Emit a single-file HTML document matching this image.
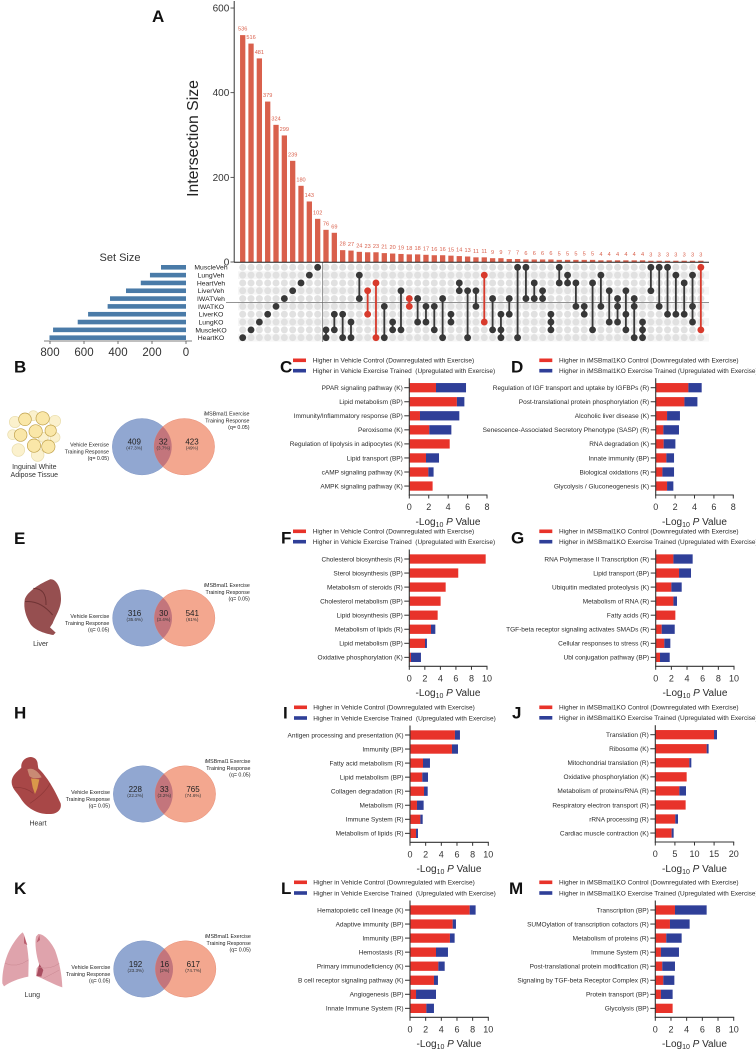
<!DOCTYPE html>
<html lang="en">
<head>
<meta charset="utf-8">
<title>Exercise training response figure</title>
<style>
html,body{margin:0;padding:0;background:#fff;width:756px;height:1050px;overflow:hidden}
svg{display:block;font-family:"Liberation Sans",sans-serif}
.cat{font-size:6.5px;fill:#2b2b2b;text-anchor:end}
.tick{font-size:9px;fill:#333;text-anchor:middle}
.leg{font-size:6.5px;fill:#2b2b2b}
.ttl{font-size:10px;fill:#2b2b2b;text-anchor:middle}
.letter{font-size:17px;font-weight:bold;fill:#111}
.vn{font-size:8px;fill:#222;text-anchor:middle}
.vs{font-size:4.6px;fill:#333;text-anchor:middle}
.vl{font-size:5.3px;fill:#222;text-anchor:end}
.org{font-size:7px;fill:#333;text-anchor:middle}
</style>
</head>
<body>
<svg id="fig" xmlns="http://www.w3.org/2000/svg" width="756" height="1050" viewBox="0 0 756 1050">
<defs>
<clipPath id="blue-clip"><ellipse cx="142" cy="446.7" rx="29.7" ry="28.2"/></clipPath>
</defs>
<rect width="756" height="1050" fill="#fff"/>

<!-- panel letters -->
<text class="letter" x="152" y="22">A</text>
<text class="letter" x="14" y="372.6">B</text>
<text class="letter" x="280" y="372.6">C</text>
<text class="letter" x="511" y="372.6">D</text>
<text class="letter" x="14" y="544">E</text>
<text class="letter" x="281" y="543.5">F</text>
<text class="letter" x="511" y="543.5">G</text>
<text class="letter" x="14" y="718.5">H</text>
<text class="letter" x="283" y="718.5">I</text>
<text class="letter" x="512" y="718.5">J</text>
<text class="letter" x="14" y="894">K</text>
<text class="letter" x="281" y="894">L</text>
<text class="letter" x="509" y="894">M</text>

<!-- upset static titles -->
<text x="120" y="261" font-size="11" fill="#333" text-anchor="middle">Set Size</text>
<text transform="translate(198,138.5) rotate(-90)" font-size="15.8" fill="#222" text-anchor="middle">Intersection Size</text>
<g id="upset"></g>

<!-- Venn B -->
<g>
<ellipse cx="142" cy="446.7" rx="29.7" ry="28.2" fill="#91a7d1" stroke="#869cc8" stroke-width=".5"/>
<ellipse cx="184.3" cy="446.7" rx="30.3" ry="28.2" fill="#f3a78f" stroke="#e9917a" stroke-width=".5"/>
<ellipse cx="184.3" cy="446.7" rx="30.3" ry="28.2" fill="#c3757c" clip-path="url(#blue-clip)"/>
<text class="vn" x="134.3" y="444.5">409</text><text class="vs" x="134.3" y="449.5">(47.3%)</text>
<text class="vn" x="163.3" y="444.5">32</text><text class="vs" x="163.3" y="449.5">(3.7%)</text>
<text class="vn" x="192" y="444.5">423</text><text class="vs" x="192" y="449.5">(49%)</text>
<text class="vl" x="109" y="446.5">Vehicle Exercise</text><text class="vl" x="109" y="453.5">Training Response</text><text class="vl" x="109" y="460">(q= 0.05)</text>
<text class="vl" x="249.5" y="415.5">iMSBmal1 Exercise</text><text class="vl" x="249.5" y="422.5">Training Response</text><text class="vl" x="249.5" y="429">(q= 0.05)</text>
</g>
<!-- Venn E -->
<g transform="translate(.3,171.3)">
<ellipse cx="142" cy="446.7" rx="29.7" ry="28.2" fill="#91a7d1" stroke="#869cc8" stroke-width=".5"/>
<ellipse cx="184.3" cy="446.7" rx="30.3" ry="28.2" fill="#f3a78f" stroke="#e9917a" stroke-width=".5"/>
<ellipse cx="184.3" cy="446.7" rx="30.3" ry="28.2" fill="#c3757c" clip-path="url(#blue-clip)"/>
<text class="vn" x="134.3" y="444.5">316</text><text class="vs" x="134.3" y="449.5">(35.6%)</text>
<text class="vn" x="163.3" y="444.5">30</text><text class="vs" x="163.3" y="449.5">(3.4%)</text>
<text class="vn" x="192" y="444.5">541</text><text class="vs" x="192" y="449.5">(61%)</text>
<text class="vl" x="109" y="446.5">Vehicle Exercise</text><text class="vl" x="109" y="453.5">Training Response</text><text class="vl" x="109" y="460">(q= 0.05)</text>
<text class="vl" x="249.5" y="415.5">iMSBmal1 Exercise</text><text class="vl" x="249.5" y="422.5">Training Response</text><text class="vl" x="249.5" y="429">(q= 0.05)</text>
</g>
<!-- Venn H -->
<g transform="translate(1,347.3)">
<ellipse cx="142" cy="446.7" rx="29.7" ry="28.2" fill="#91a7d1" stroke="#869cc8" stroke-width=".5"/>
<ellipse cx="184.3" cy="446.7" rx="30.3" ry="28.2" fill="#f3a78f" stroke="#e9917a" stroke-width=".5"/>
<ellipse cx="184.3" cy="446.7" rx="30.3" ry="28.2" fill="#c3757c" clip-path="url(#blue-clip)"/>
<text class="vn" x="134.3" y="444.5">228</text><text class="vs" x="134.3" y="449.5">(22.2%)</text>
<text class="vn" x="163.3" y="444.5">33</text><text class="vs" x="163.3" y="449.5">(3.2%)</text>
<text class="vn" x="192" y="444.5">765</text><text class="vs" x="192" y="449.5">(74.6%)</text>
<text class="vl" x="109" y="446.5">Vehicle Exercise</text><text class="vl" x="109" y="453.5">Training Response</text><text class="vl" x="109" y="460">(q= 0.05)</text>
<text class="vl" x="249.5" y="415.5">iMSBmal1 Exercise</text><text class="vl" x="249.5" y="422.5">Training Response</text><text class="vl" x="249.5" y="429">(q= 0.05)</text>
</g>
<!-- Venn K -->
<g transform="translate(1.3,522.3)">
<ellipse cx="142" cy="446.7" rx="29.7" ry="28.2" fill="#91a7d1" stroke="#869cc8" stroke-width=".5"/>
<ellipse cx="184.3" cy="446.7" rx="30.3" ry="28.2" fill="#f3a78f" stroke="#e9917a" stroke-width=".5"/>
<ellipse cx="184.3" cy="446.7" rx="30.3" ry="28.2" fill="#c3757c" clip-path="url(#blue-clip)"/>
<text class="vn" x="134.3" y="444.5">192</text><text class="vs" x="134.3" y="449.5">(23.3%)</text>
<text class="vn" x="163.3" y="444.5">16</text><text class="vs" x="163.3" y="449.5">(2%)</text>
<text class="vn" x="192" y="444.5">617</text><text class="vs" x="192" y="449.5">(74.7%)</text>
<text class="vl" x="109" y="446.5">Vehicle Exercise</text><text class="vl" x="109" y="453.5">Training Response</text><text class="vl" x="109" y="460">(q= 0.05)</text>
<text class="vl" x="249.5" y="415.5">iMSBmal1 Exercise</text><text class="vl" x="249.5" y="422.5">Training Response</text><text class="vl" x="249.5" y="429">(q= 0.05)</text>
</g>

<!-- Adipose illustration -->
<g transform="translate(0,350) scale(.3333)">
<g fill="#fbf1cd" stroke="#e8dcab" stroke-width="2">
<circle cx="45" cy="216" r="17"/><circle cx="100" cy="197" r="15"/><circle cx="165" cy="213" r="17"/><circle cx="38" cy="254" r="15"/><circle cx="55" cy="300" r="19"/><circle cx="113" cy="315" r="19"/><circle cx="165" cy="262" r="15"/><circle cx="130" cy="262" r="15"/>
</g>
<g fill="#fae7a8" stroke="#bfa04a" stroke-width="2">
<circle cx="75" cy="208" r="19"/><circle cx="128" cy="205" r="20"/><circle cx="62" cy="255" r="19"/><circle cx="107" cy="244" r="20"/><circle cx="152" cy="242" r="17"/><circle cx="102" cy="287" r="20"/><circle cx="145" cy="290" r="20"/>
</g>
</g>
<text class="org" x="34.3" y="469">Inguinal White</text>
<text class="org" x="34.3" y="477">Adipose Tissue</text>

<!-- Liver illustration -->
<g transform="translate(0,520) scale(.3333)">
<path d="M150 178 C170 176 183 205 183 235 C184 265 165 290 158 310 L150 322 L167 338 L160 345 C130 340 100 328 90 310 C78 290 70 265 74 240 C78 220 110 195 150 178 Z" fill="#964f50"/>
<path d="M75 245 Q120 240 158 285 M100 205 Q140 205 138 255" stroke="#6e3334" stroke-width="3" fill="none"/>
</g>
<text class="org" x="40.7" y="646">Liver</text>

<!-- Heart illustration -->
<g transform="translate(0,700) scale(.3333)">
<path d="M85 172 C100 168 113 178 113 192 L115 205 C140 228 165 270 182 310 C186 330 170 342 150 342 C115 344 80 325 62 295 C52 278 34 265 35 245 C36 225 55 212 64 203 C62 188 72 175 85 172 Z" fill="#a84747"/>
<path d="M82 208 Q105 200 125 232 Q100 240 88 228 Z" fill="#c98a74"/>
<path d="M93 235 L118 238 L112 265 L105 282 L98 262 Z" fill="#d9984a"/>
<path d="M40 262 Q75 260 100 280 M90 310 Q135 280 150 250" stroke="#8f3838" stroke-width="2" fill="none"/>
</g>
<text class="org" x="38" y="825.5" font-size="7.5">Heart</text>

<!-- Lung illustration -->
<g transform="translate(0,880) scale(.3333)">
<path d="M68 157 C78 170 84 210 86 240 L85 290 C55 296 30 306 12 319 L7 310 C6 265 20 220 40 190 C50 175 60 162 68 157 Z" fill="#dfa3ac"/>
<path d="M115 162 C135 162 155 190 165 210 C178 245 186 285 187 322 C165 316 140 300 108 288 L110 265 L118 255 C108 225 104 190 108 170 Z" fill="#dfa3ac"/>
<path d="M72 168 L82 195 L72 190 Z" fill="#bb5f6f"/>
<path d="M118 165 L110 188 L120 180 Z" fill="#bb5f6f"/>
<path d="M118 252 L130 270 L124 290 L110 288 Z" fill="#a94d60"/>
<path d="M15 250 Q50 265 85 240 M118 262 Q150 270 178 250 M130 295 Q160 280 178 270" stroke="#c88791" stroke-width="1.5" fill="none"/>
</g>
<text class="org" x="32.3" y="997" font-size="8">Lung</text>

<!-- Legends -->
<g>
<rect x="293" y="358.5" width="13" height="3.6" fill="#e8332a"/><rect x="293" y="368.9" width="13" height="3.6" fill="#2f3f98"/>
<text class="leg" x="312.7" y="362.6">Higher in Vehicle Control (Downregulated with Exercise)</text>
<text class="leg" x="312.7" y="373" xml:space="preserve">Higher in Vehicle Exercise Trained  (Upregulated with Exercise)</text>
</g>
<g>
<rect x="539.3" y="358.5" width="13" height="3.6" fill="#e8332a"/><rect x="539.3" y="368.9" width="13" height="3.6" fill="#2f3f98"/>
<text class="leg" x="559" y="362.6">Higher in iMSBmal1KO Control (Downregulated with Exercise)</text>
<text class="leg" x="559" y="373">Higher in iMSBmal1KO Exercise Trained (Upregulated with Exercise)</text>
</g>
<g>
<rect x="293" y="529.5" width="13" height="3.6" fill="#e8332a"/><rect x="293" y="539.9" width="13" height="3.6" fill="#2f3f98"/>
<text class="leg" x="312.7" y="533.6">Higher in Vehicle Control (Downregulated with Exercise)</text>
<text class="leg" x="312.7" y="544" xml:space="preserve">Higher in Vehicle Exercise Trained  (Upregulated with Exercise)</text>
</g>
<g>
<rect x="539.3" y="529.5" width="13" height="3.6" fill="#e8332a"/><rect x="539.3" y="539.9" width="13" height="3.6" fill="#2f3f98"/>
<text class="leg" x="559" y="533.6">Higher in iMSBmal1KO Control (Downregulated with Exercise)</text>
<text class="leg" x="559" y="544">Higher in iMSBmal1KO Exercise Trained (Upregulated with Exercise)</text>
</g>
<g>
<rect x="294" y="705.5" width="13" height="3.6" fill="#e8332a"/><rect x="294" y="716.2" width="13" height="3.6" fill="#2f3f98"/>
<text class="leg" x="313.3" y="709.6">Higher in Vehicle Control (Downregulated with Exercise)</text>
<text class="leg" x="313.3" y="720.3" xml:space="preserve">Higher in Vehicle Exercise Trained  (Upregulated with Exercise)</text>
</g>
<g>
<rect x="539.3" y="705.5" width="13" height="3.6" fill="#e8332a"/><rect x="539.3" y="716" width="13" height="3.6" fill="#2f3f98"/>
<text class="leg" x="559" y="709.6">Higher in iMSBmal1KO Control (Downregulated with Exercise)</text>
<text class="leg" x="559" y="720.1">Higher in iMSBmal1KO Exercise Trained (Upregulated with Exercise)</text>
</g>
<g>
<rect x="294" y="880.5" width="13" height="3.6" fill="#e8332a"/><rect x="294" y="891.2" width="13" height="3.6" fill="#2f3f98"/>
<text class="leg" x="313.3" y="884.6">Higher in Vehicle Control (Downregulated with Exercise)</text>
<text class="leg" x="313.3" y="895.3" xml:space="preserve">Higher in Vehicle Exercise Trained  (Upregulated with Exercise)</text>
</g>
<g>
<rect x="539.3" y="880.5" width="13" height="3.6" fill="#e8332a"/><rect x="539.3" y="891.2" width="13" height="3.6" fill="#2f3f98"/>
<text class="leg" x="559" y="884.6">Higher in iMSBmal1KO Control (Downregulated with Exercise)</text>
<text class="leg" x="559" y="895.3">Higher in iMSBmal1KO Exercise Trained (Upregulated with Exercise)</text>
</g>

<!-- Axis titles -->
<text class="ttl" x="448" y="525">-Log<tspan font-size="7" dy="2">10</tspan><tspan dy="-2" font-style="italic"> P</tspan> Value</text>
<text class="ttl" x="694.5" y="525">-Log<tspan font-size="7" dy="2">10</tspan><tspan dy="-2" font-style="italic"> P</tspan> Value</text>
<text class="ttl" x="448" y="696">-Log<tspan font-size="7" dy="2">10</tspan><tspan dy="-2" font-style="italic"> P</tspan> Value</text>
<text class="ttl" x="695" y="696">-Log<tspan font-size="7" dy="2">10</tspan><tspan dy="-2" font-style="italic"> P</tspan> Value</text>
<text class="ttl" x="449" y="872">-Log<tspan font-size="7" dy="2">10</tspan><tspan dy="-2" font-style="italic"> P</tspan> Value</text>
<text class="ttl" x="694.5" y="872">-Log<tspan font-size="7" dy="2">10</tspan><tspan dy="-2" font-style="italic"> P</tspan> Value</text>
<text class="ttl" x="449" y="1047">-Log<tspan font-size="7" dy="2">10</tspan><tspan dy="-2" font-style="italic"> P</tspan> Value</text>
<text class="ttl" x="694.5" y="1047">-Log<tspan font-size="7" dy="2">10</tspan><tspan dy="-2" font-style="italic"> P</tspan> Value</text>

<g id="bars"></g>
</svg>

<script>
// ---------- UpSet data ----------
const intersectionSizes = [536,516,481,379,324,299,239,180,143,102,76,69,28,27,24,23,23,21,20,19,18,18,17,16,16,15,14,13,11,11,9,9,7,7,6,6,6,6,5,5,5,5,5,4,4,4,4,4,4,3,3,3,3,3,3,3];
const intersectionMembers = [[9],[8],[7],[6],[5],[4],[3],[2],[1],[0],[8,9],[6,8],[6,9],[7,9],[1,4],[3,6],[2,9],[5,9],[7,8],[3,8],[4,5],[4,7],[5,7],[5,8],[4,9],[6,7],[2,3],[3,9],[3,5],[1,7],[4,8],[6,8,9],[4,6],[0,9],[0,4],[2,4],[3,4],[6,7,8],[0,2],[1,2],[2,5],[5,6],[2,8],[1,5],[3,7],[4,5,7],[3,6,8],[4,5,9],[7,8,9],[0,3],[0,5],[0,6],[1,6],[2,6],[1,5,7],[0,8]];
const highlightedIntersections = [15,16,20,29,55];
const setNames = ["MuscleVeh","LungVeh","HeartVeh","LiverVeh","IWATVeh","IWATKO","LiverKO","LungKO","MuscleKO","HeartKO"];
const setSizes = [147,212,266,353,447,461,576,637,782,803];
const intersectionTicks = [0,200,400,600];
const setSizeTicks = [800,600,400,200,0];

// ---------- Bar chart data ----------
const catsC = ["PPAR signaling pathway (K)","Lipid metabolism (BP)","Immunity/Inflammatory response (BP)","Peroxisome (K)","Regulation of lipolysis in adipocytes (K)","Lipid transport (BP)","cAMP signaling pathway (K)","AMPK signaling pathway (K)"];
const redC = [2.75,4.9,1.1,2.06,4.16,1.72,1.96,2.4];
const blueC = [3.09,0.77,4.05,2.27,0,1.34,0.54,0];
const ticksC = [0,2,4,6,8];

const catsD = ["Regulation of IGF transport and uptake by IGFBPs (R)","Post-translational protein phosphorylation (R)","Alcoholic liver disease (K)","Senescence-Associated Secretory Phenotype (SASP) (R)","RNA degradation (K)","Innate immunity (BP)","Biological oxidations (R)","Glycolysis / Gluconeogenesis (K)"];
const redD = [3.37,2.96,1.17,0.79,0.82,1.1,0.69,1.17];
const blueD = [1.37,1.34,1.33,1.61,1.21,0.79,1.2,0.65];
const ticksD = [0,2,4,6,8];

const catsF = ["Cholesterol biosynthesis (R)","Sterol biosynthesis (BP)","Metabolism of steroids (R)","Cholesterol metabolism (BP)","Lipid biosynthesis (BP)","Metabolism of lipids (R)","Lipid metabolism (BP)","Oxidative phosphorylation (K)"];
const redF = [9.83,6.3,4.68,4.03,3.65,2.79,2.02,0.21];
const blueF = [0,0,0,0,0,0.56,0.25,1.29];
const ticksF = [0,2,4,6,8,10];

const catsG = ["RNA Polymerase II Transcription (R)","Lipid transport (BP)","Ubiquitin mediated proteolysis (K)","Metabolism of RNA (R)","Fatty acids (R)","TGF-beta receptor signaling activates SMADs (R)","Cellular responses to stress (R)","Ubl conjugation pathway (BP)"];
const redG = [2.26,2.98,2,2.26,2.51,0.77,1.1,0.55];
const blueG = [2.46,1.53,1.32,0.46,0,1.66,0.77,1.24];
const ticksG = [0,2,4,6,8,10];

const catsI = ["Antigen processing and presentation (K)","Immunity (BP)","Fatty acid metabolism (R)","Lipid metabolism (BP)","Collagen degradation (R)","Metabolism (R)","Immune System (R)","Metabolism of lipids (R)"];
const redI = [5.74,5.36,1.66,1.57,1.79,0.89,1.32,0.77];
const blueI = [0.64,0.77,0.89,0.73,0.47,0.85,0.3,0.25];
const ticksI = [0,2,4,6,8,10];

const catsJ = ["Translation (R)","Ribosome (K)","Mitochondrial translation (R)","Oxidative phosphorylation (K)","Metabolism of proteins/RNA (R)","Respiratory electron transport (R)","rRNA processing (R)","Cardiac muscle contraction (K)"];
const redJ = [14.98,13.1,8.68,8,6.13,7.74,5.1,4.17];
const blueJ = [0.76,0.5,0.51,0,1.7,0,0.69,0.51];
const ticksJ = [0,5,10,15,20];

const catsL = ["Hematopoietic cell lineage (K)","Adaptive immunity (BP)","Immunity (BP)","Hemostasis (R)","Primary immunodeficiency (K)","B cell receptor signaling pathway (K)","Angiogenesis (BP)","Innate Immune System (R)"];
const redL = [7.62,5.45,5.1,3.32,3.62,3.06,0.77,2.09];
const blueL = [0.76,0.42,0.6,1.53,0.81,0.51,2.55,0.97];
const ticksL = [0,2,4,6,8,10];

const catsM = ["Transcription (BP)","SUMOylation of transcription cofactors (R)","Metabolism of proteins (R)","Immune System (R)","Post-translational protein modification (R)","Signaling by TGF-beta Receptor Complex (R)","Protein transport (BP)","Glycolysis (BP)"];
const redM = [2.51,1.87,1.4,0.72,0.89,1.02,0.72,2.21];
const blueM = [4.04,2.51,1.96,2.3,1.62,1.41,1.49,0];
const ticksM = [0,2,4,6,8,10];

const NS = 'http://www.w3.org/2000/svg';
function mk(parent, tag, attrs, txt) {
  const n = document.createElementNS(NS, tag);
  for (const k in attrs) n.setAttribute(k, attrs[k]);
  if (txt !== undefined) n.textContent = txt;
  parent.appendChild(n);
  return n;
}

// ---------- UpSet axes ----------
const yUp = v => 262 - v * 0.4233;
const xCol = i => 242.7 + i * 8.33;
const xSet = v => 186 - v * 0.17;
const yRow = r => 267.3 + r * 7.82;

function drawUpset() {
  const g = document.getElementById('upset');
  let el;
  // row bands
  setNames.forEach((n, r) => {
    if (r % 2 === 1) {
      el = mk(g, 'rect', {x: 238, y: yRow(r) - 3.91, width: 471, height: 7.82, fill: '#f6f6f6'});
      
      
    }
  });
  // grey dots
  intersectionSizes.forEach((v, c) => {
    setNames.forEach((n, r) => {
      el = mk(g, 'circle', {cx: xCol(c), cy: yRow(r), r: 3.5, fill: '#e1e1e1'});
      
      
    });
  });
  // divider lines
  el = mk(g, 'line', {x1: 226, x2: 709, y1: 302.3, y2: 302.3, stroke: '#555', 'stroke-width': 0.7});
  
  
  el = mk(g, 'line', {x1: 322.7, x2: 322.7, y1: 262, y2: 342, stroke: '#666', 'stroke-width': 0.7});
  
  
  // bars and labels
  intersectionSizes.forEach((v, c) => {
    el = mk(g, 'rect', {x: xCol(c) - 2.65, y: yUp(v), width: 5.3, height: 262 - yUp(v), fill: '#d9604c'});
    
    
    el = mk(g, 'text', {x: xCol(c), y: yUp(v) - 4.4, 'font-size': 5.6, fill: '#d9604c', 'text-anchor': 'middle'}, String(v));
    
    
  });
  // member dots
  intersectionSizes.forEach((v, c) => {
    const mem = intersectionMembers[c];
    const col = highlightedIntersections.includes(c) ? '#d83a2c' : '#383838';
    if (mem.length > 1) {
      el = mk(g, 'line', {x1: xCol(c), x2: xCol(c), y1: yRow(Math.min(...mem)), y2: yRow(Math.max(...mem)), stroke: col, 'stroke-width': 1.8});
      
      
    }
    mem.forEach(r => {
      el = mk(g, 'circle', {cx: xCol(c), cy: yRow(r), r: 3.4, fill: col});
      
      
    });
  });
  // y axis
  el = mk(g, 'line', {x1: 234.2, x2: 234.2, y1: 1, y2: 262, stroke: '#333', 'stroke-width': 1});
  
  
  el = mk(g, 'line', {x1: 234, x2: 709, y1: 262.3, y2: 262.3, stroke: '#222', 'stroke-width': 1});
  
  
  intersectionTicks.forEach(t => {
    el = mk(g, 'line', {x1: 230.5, x2: 234, y1: yUp(t), y2: yUp(t), stroke: '#333', 'stroke-width': 0.8});
    
    
    el = mk(g, 'text', {x: 229.3, y: yUp(t) + 3.5, 'font-size': 10, fill: '#333', 'text-anchor': 'end'}, String(t));
    
    
  });
  // set size
  setNames.forEach((n, r) => {
    el = mk(g, 'rect', {x: xSet(setSizes[r]), y: yRow(r) - 2.3, width: 186 - xSet(setSizes[r]), height: 4.6, fill: '#4a7ba8'});
    
    
    el = mk(g, 'text', {x: 211, y: yRow(r) + 2.4, 'font-size': 6.8, fill: '#222', 'text-anchor': 'middle'}, n);
    
    
  });
  el = mk(g, 'line', {x1: 44, x2: 192, y1: 341, y2: 341, stroke: '#555', 'stroke-width': 0.8});
  
  
  setSizeTicks.forEach(t => {
    el = mk(g, 'line', {x1: xSet(t), x2: xSet(t), y1: 341, y2: 344, stroke: '#555', 'stroke-width': 0.8});
    
    
    el = mk(g, 'text', {x: xSet(t), y: 356, 'font-size': 11.5, fill: '#333', 'text-anchor': 'middle'}, String(t));
    
    
  });
}

// ---------- Bar charts ----------
function drawBars(id, cats, red, blue, ticks, x0, x1, y0) {
  const root = document.getElementById('bars');
  const g = mk(root, 'g', {});
  
  
  const tMax = ticks[ticks.length - 1];
  const sx = v => x0 + v / tMax * (x1 - x0);
  const sy = i => y0 + i * 14.05;
  const base = y0 + 107.3;
  let el;
  cats.forEach((c, i) => {
    el = mk(g, 'rect', {x: sx(0), y: sy(i) - 4.65, width: sx(red[i]) - sx(0), height: 9.3, fill: '#e8332a'});
    
    
    el = mk(g, 'rect', {x: sx(red[i]), y: sy(i) - 4.65, width: sx(red[i] + blue[i]) - sx(red[i]), height: 9.3, fill: '#2f3f98'});
    
    
    el = mk(g, 'line', {x1: x0 - 5, x2: x0, y1: sy(i), y2: sy(i), stroke: '#333', 'stroke-width': 1});
    
    
    el = mk(g, 'text', {class: 'cat', x: x0 - 6.5, y: sy(i) + 2.3}, c);
    
    
  });
  el = mk(g, 'line', {x1: x0, x2: x0, y1: y0 - 9.5, y2: base + 0.5, stroke: '#333', 'stroke-width': 1.1});
  
  
  el = mk(g, 'line', {x1: x0 - 0.5, x2: x1 + 0.5, y1: base, y2: base, stroke: '#333', 'stroke-width': 1.1});
  
  
  ticks.forEach(t => {
    el = mk(g, 'line', {x1: sx(t), x2: sx(t), y1: base, y2: base + 3.5, stroke: '#333', 'stroke-width': 1});
    
    
    el = mk(g, 'text', {class: 'tick', x: sx(t), y: base + 15}, String(t));
    
    
  });
}

drawUpset();
drawBars('c', catsC, redC, blueC, ticksC, 409.3, 487, 387.7);
drawBars('d', catsD, redD, blueD, ticksD, 655.7, 733.3, 387.7);
drawBars('f', catsF, redF, blueF, ticksF, 409.3, 487, 559);
drawBars('g', catsG, redG, blueG, ticksG, 655.7, 734, 559);
drawBars('i', catsI, redI, blueI, ticksI, 410, 488.3, 735);
drawBars('j', catsJ, redJ, blueJ, ticksJ, 655.3, 733.7, 734.7);
drawBars('l', catsL, redL, blueL, ticksL, 410, 488.3, 910);
drawBars('m', catsM, redM, blueM, ticksM, 655.3, 733.7, 910);
</script>
</body>
</html>
